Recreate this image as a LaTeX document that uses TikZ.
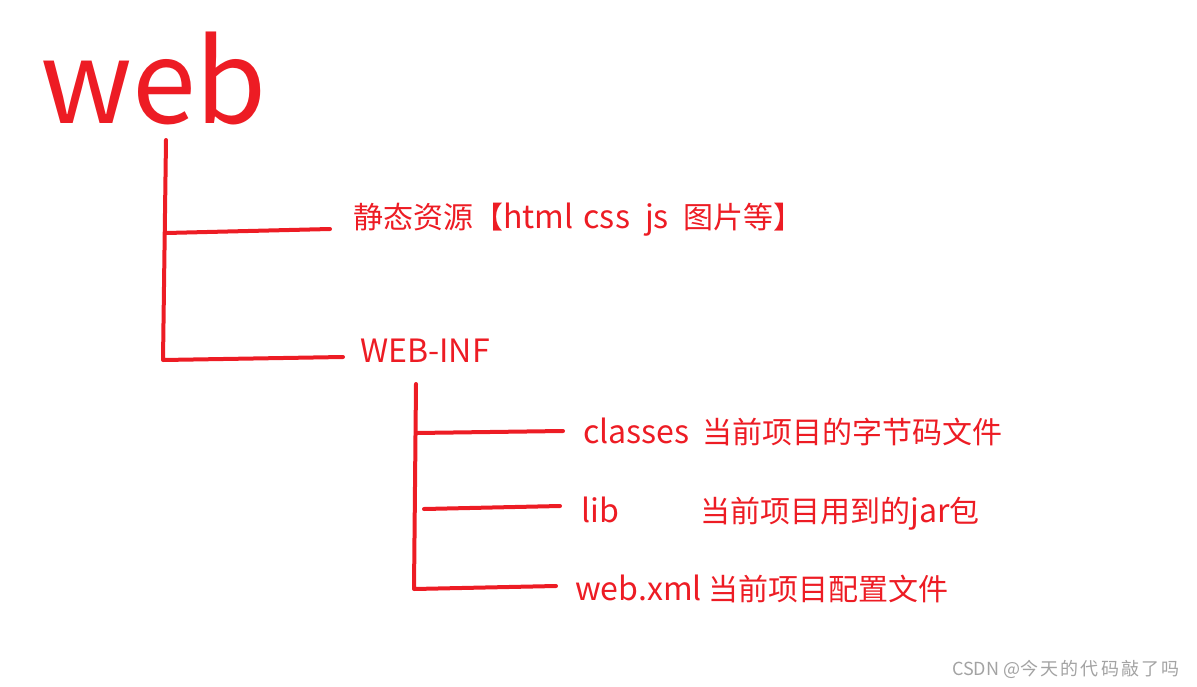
\documentclass[tikz,border=0pt]{standalone}
\usepackage{fontspec}
\setmainfont{Noto Sans CJK SC}
\newfontfamily\latfont{Noto Sans CJK SC}[Scale=1.07]
\newfontfamily\markcjk{Noto Sans CJK SC}[LetterSpace=12]
\definecolor{paintred}{HTML}{ED1C24}
\definecolor{markgray}{HTML}{A3A3A3}
\tikzset{
    tree/.style={draw=paintred, line width=4pt, line cap=round, line join=round},
    label/.style={text=paintred, inner sep=0pt, anchor=base west, font=\fontsize{30}{30}\selectfont},
}
\begin{document}
\begin{tikzpicture}[x=1pt, y=-1pt]
            \useasboundingbox (0,0) rectangle (1197,686);
            % root
            \node[label, font=\fontsize{115}{115}\selectfont] (web) at (40,123) {web};
            \coordinate (webtop) at (166,140);
            \coordinate (webmid) at (166,233);
            \coordinate (webbot) at (163,360);
            \coordinate (staticend) at (330,229);
            \coordinate (webinfend) at (343,357);
            \node[label] (static) at (353,228) {静态资源【{\latfont html\hspace{10pt}css\hspace{15pt}js\hspace{15pt}}图片等】};
            \node[label] (webinf) at (360,362) {\latfont WEB-INF};
            \draw[tree] (webtop) -- (webbot) -- (webinfend);
            \draw[tree] (webmid) -- (staticend);
            % WEB-INF
            \coordinate (inftop) at (416,384);
            \coordinate (infbot) at (414,589);
            \coordinate (classesstart) at (416,433);
            \coordinate (classesend) at (563,431);
            \coordinate (libstart) at (424,509);
            \coordinate (libend) at (560,506);
            \coordinate (xmlend) at (556,586);
            \node[label] (classes) at (583,443) {\latfont classes};
            \node[label] (classesdesc) at (702,443) {当前项目的字节码文件};
            \node[label] (lib) at (581,522) {\latfont lib};
            \node[label] (libdesc) at (700,522) {当前项目用到的{\latfont jar}包};
            \node[label] (webxml) at (575,600) {{\latfont web.xml} 当前项目配置文件};
            \draw[tree] (inftop) -- (infbot) -- (xmlend);
            \draw[tree] (classesstart) -- (classesend);
            \draw[tree] (libstart) -- (libend);
            % watermark
            \node[anchor=base west, inner sep=0pt, text=markgray,
                font=\fontsize{18}{18}\selectfont] (mark) at (952,675) {CSDN @{\markcjk 今天的代码敲了吗}};
        \end{tikzpicture}
\end{document}
